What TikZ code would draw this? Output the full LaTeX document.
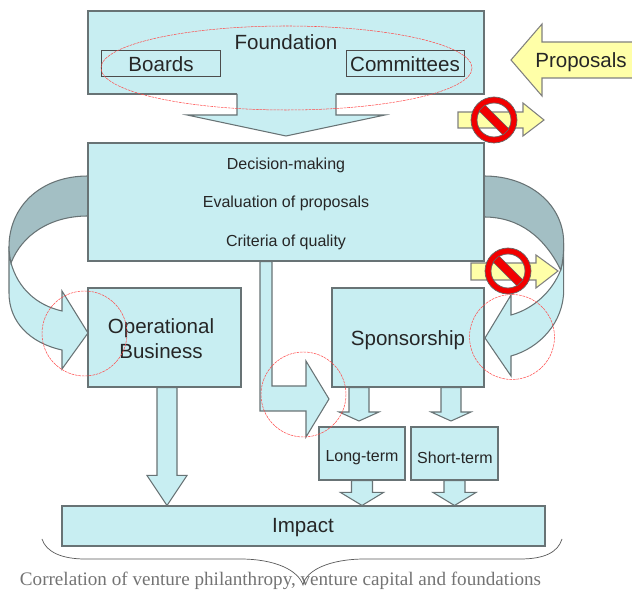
\documentclass[tikz,border=0pt]{standalone}
\usepackage{fontspec}
\setmainfont{Liberation Sans}
\newfontfamily\captionserif{Liberation Serif}
\usepackage{xcolor}
\usepackage{tikz}
\usetikzlibrary{calc}

\definecolor{paleblue}{HTML}{C8EEF2}
\definecolor{shadeblue}{HTML}{A3BFC4}
\definecolor{paleyellow}{HTML}{FFFFA8}
\definecolor{edgegray}{HTML}{687375}
\newcommand{\px}{.02cm}

\tikzset{
    boxwh/.style 2 args={minimum width=#1*\px, minimum height=#2*\px},
    mainbox/.style={draw=edgegray, line width=.6pt, fill=paleblue, inner sep=0pt, text=black!85},
    innerbox/.style={draw=black!70, line width=.5pt, inner sep=0pt, text=black!85},
    bigtext/.style={font=\fontsize{11.7}{14.2}\selectfont, align=center, text=black!85},
    smalltext/.style={font=\fontsize{9.1}{11}\selectfont, text=black!85},
    blockarrow/.style={draw=edgegray, line width=.6pt, fill=paleblue, line join=miter},
    yellowarrow/.style={draw=black!50, line width=.6pt, fill=paleyellow},
    redring/.style={draw=red!70, line width=.3pt, dash pattern=on 1.5pt off .5pt}
}

% down arrow: top point, tip, half stem, half head, head length
\newcommand{\blockdown}[5]{
    \coordinate (bt) at (#1);
    \coordinate (bh) at ($(#2)+(0,-#5)$);
    \coordinate (bl) at ($(bt)+(-#3,0)$);
    \coordinate (br) at ($(bt)+(#3,0)$);
    \filldraw[blockarrow] (bl) -- (bl |- bh) -- ($(bh)+(-#4,0)$) -- (#2) -- ($(bh)+(#4,0)$) -- (br |- bh) -- (br) -- cycle;
}

% forbidden sign
\newcommand{\nosign}[1]{
    \begin{scope}[shift={(#1)}]
        \filldraw[draw=black!60, line width=.4pt, fill=red!95!black, even odd rule] (0,0) circle (23) (0,0) circle (17);
        \filldraw[draw=black!60, line width=.3pt, fill=red!95!black] (-15,-9) -- (-9,-15) -- (15,9) -- (9,15) -- cycle;
    \end{scope}
}

\begin{document}
\begin{tikzpicture}[x=.02cm, y=-.02cm]
    \useasboundingbox (0,0) rectangle (632,590);

    % curved arrows
    \filldraw[blockarrow] (9,247) -- (9,293) .. controls (9,322) and (30,343) .. (62,350) -- (62,369) -- (88,333) -- (62,291) -- (62,311) .. controls (36,305) and (18,288) .. (11,263) .. controls (10,258) and (9,252) .. (9,247) -- cycle;
    \filldraw[blockarrow, fill=shadeblue] (88,176) .. controls (40,176) and (9,207) .. (9,247) .. controls (9,252) and (10,258) .. (11,263) .. controls (22,235) and (50,216) .. (88,216) -- cycle;
    \filldraw[blockarrow] (563.7,243) -- (563.7,290) .. controls (563.7,322) and (540,348) .. (511,356) -- (511,376) -- (485,338) -- (511,295) -- (511,315) .. controls (533,309) and (552,292) .. (560.7,270) .. controls (563,262) and (563.7,252) .. (563.7,243) -- cycle;
    \filldraw[blockarrow, fill=shadeblue] (484,176) .. controls (530,176) and (563.7,205) .. (563.7,243) .. controls (563.7,252) and (563,262) .. (560.7,270) .. controls (545,238) and (520,217) .. (484,217) -- cycle;

    % boxes
    \node[mainbox, boxwh={396}{83}] (found) at (286,52.5) {};
    \node[mainbox, boxwh={396}{118}] (decide) at (286,202) {};
    \node[mainbox, boxwh={153}{99}] (oper) at (164.5,337.5) {};
    \node[mainbox, boxwh={152}{99}] (spons) at (408,337.5) {};
    \node[mainbox, boxwh={483}{40}] (impact) at (303.5,526) {};
    \node[mainbox, boxwh={86}{53}] (long) at (362,453.5) {};
    \node[mainbox, boxwh={87}{53}] (short) at (454.5,453.5) {};

    % block arrows, boxes go over their tails
    \coordinate (foundtip) at (286,136);
    \coordinate (longtip) at (359,421);
    \coordinate (shorttip) at (451,421);
    \fill[paleblue] (237,92) rectangle (336,96);
    \draw[blockarrow] (237,94) -- (237,115) -- (187,115) -- (foundtip) -- (385,115) -- (336,115) -- (336,94);
    \blockdown{oper.south -| 167,0}{impact.north -| 167,0}{10}{20}{30}
    \blockdown{spons.south -| longtip}{longtip}{10}{20}{9}
    \blockdown{spons.south -| shorttip}{shorttip}{10}{20}{9}
    \blockdown{long.south}{long.south |- impact.north}{10.5}{21.5}{13}
    \blockdown{short.south}{short.south |- impact.north}{10.5}{21.5}{13}
    \filldraw[blockarrow] (decide.south -| 260,0) -- (260,411) -- (306,411) -- (306,437) -- (329,399) -- (306,361) -- (306,386) -- (272,386) -- (decide.south -| 272,0) -- cycle;

    % box outlines again, over the arrow tails
    \draw[edgegray, line width=.6pt] (decide.south west) -- (decide.south east);
    \draw[edgegray, line width=.6pt] (spons.south west) -- (spons.south east);
    \draw[edgegray, line width=.6pt] (oper.south west) -- (oper.south east);
    \draw[edgegray, line width=.6pt] (long.south west) -- (long.south east);
    \draw[edgegray, line width=.6pt] (short.south west) -- (short.south east);

    \node[innerbox, boxwh={119}{26}] (boards) at (160.5,63) {};
    \node[innerbox, boxwh={118}{26}] (commit) at (405,63) {};

    % texts
    \node[bigtext] (boardtext) at (161,64) {Boards};
    \node[bigtext] (committext) at (405,64) {Committees};
    \node[bigtext] (foundtext) at (286,42) {Foundation};
    \node[smalltext] (dectext) at (286,165) {Decision-making};
    \node[smalltext] (evaltext) at (286,203) {Evaluation of proposals};
    \node[smalltext] (crittext) at (286,242) {Criteria of quality};
    \node[bigtext] (opertext) at (161,339) {Operational\\Business};
    \node[bigtext] (sponstext) at (408,340) {Sponsorship};
    \node[smalltext] (longtext) at (362,458) {Long-term};
    \node[smalltext] (shorttext) at (455,458) {Short-term};
    \node[bigtext] (imptext) at (303,528) {Impact};

    % yellow arrows
    \filldraw[yellowarrow] (632,42) -- (542,42) -- (542,24) -- (511,60) -- (542,96) -- (542,78) -- (632,78);
    \node[bigtext] (proposals) at (581,62) {Proposals};
    \filldraw[yellowarrow] (458,112) -- (523,112) -- (523,103) -- (544,120) -- (523,136) -- (523,128) -- (458,128) -- cycle;
    \filldraw[yellowarrow] (471,263) -- (536,263) -- (536,255) -- (558,271) -- (536,288) -- (536,280) -- (471,280) -- cycle;
    \nosign{494,120}
    \nosign{508,271}

    % red marks
    \draw[redring] (286.5,68) ellipse [x radius=185.5, y radius=42];
    \draw[redring] (84.5,333.5) circle (42.5);
    \draw[redring] (303.5,394.5) circle (42.5);
    \draw[redring] (512,337) circle (42.5);

    % brace and caption
    \node[font=\captionserif\fontsize{10.88}{12}\selectfont, text=black!55] (caption) at (280.5,581) {Correlation of venture philanthropy, venture capital and foundations};
    \draw[black!65, line width=.4pt] (42,539) .. controls (46,552) and (62,559) .. (85,559) -- (240,559) .. controls (275,559) and (298,570) .. (303,585) .. controls (306,570) and (330,559) .. (365,559) -- (520,559) .. controls (545,559) and (558,552) .. (562,539);
\end{tikzpicture}
\end{document}
